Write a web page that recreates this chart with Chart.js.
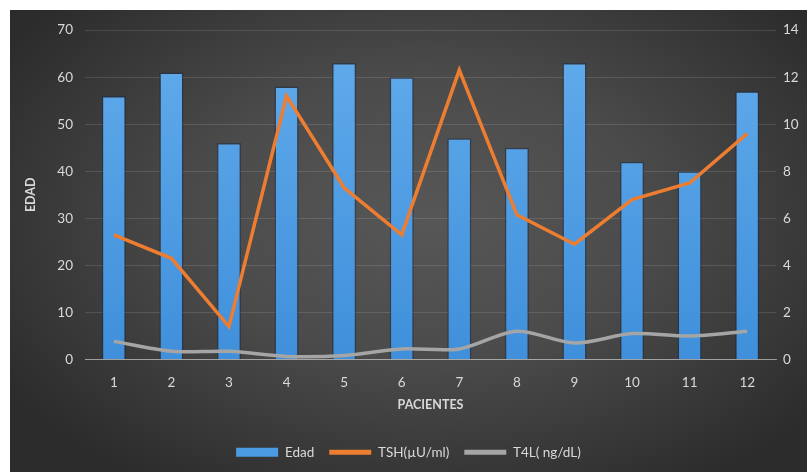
<!DOCTYPE html>
<html>
<head>
<meta charset="utf-8">
<title>Edad, TSH y T4L por paciente</title>
<script src="https://cdn.jsdelivr.net/npm/chart.js@4.4.1/dist/chart.umd.min.js"></script>
<style>
    html, body { margin: 0; padding: 0; background: #fff; }
    #panel {
        position: absolute; left: 10px; top: 10px; width: 797px; height: 462px;
        background: radial-gradient(ellipse 62% 68% at 52% 45%, #575757 0%, #4b4b4b 45%, #2c2c2c 100%);
    }
    canvas { display: block; }
</style>
</head>
<body>
<div id="panel"><canvas id="chart" width="797" height="462"></canvas></div>
<script>
// Data per patient
const pacientes = ['1', '2', '3', '4', '5', '6', '7', '8', '9', '10', '11', '12'];
const edad = [56, 61, 46, 58, 63, 60, 47, 45, 63, 42, 40, 57];
const tsh = [5.3, 4.3, 1.4, 11.2, 7.3, 5.3, 12.3, 6.15, 4.9, 6.8, 7.5, 9.6];
const t4l = [0.77, 0.35, 0.35, 0.13, 0.17, 0.45, 0.45, 1.2, 0.7, 1.1, 1.0, 1.2];

// Styles
const textColor = '#d9d9d9';
const blue = '#4a9be2';
const orange = '#ed7d31';
const gray = '#a5a5a5';
const legendColors = [blue, orange, gray];

Chart.defaults.font.family = 'Lato, "Liberation Sans", sans-serif';
Chart.defaults.color = textColor;

// Bars fade a little from top to bottom
function barFill(context) {
    const area = context.chart.chartArea;
    if (!area) return blue;
    const g = context.chart.ctx.createLinearGradient(0, area.top, 0, area.bottom);
    g.addColorStop(0, '#62acec');
    g.addColorStop(1, '#3f8fdb');
    return g;
}

const ctx = document.getElementById('chart').getContext('2d');
const chart = new Chart(ctx, {
    type: 'bar',
    data: {
        labels: pacientes,
        datasets: [
            {
                type: 'bar',
                label: 'Edad',
                data: edad,
                yAxisID: 'y',
                backgroundColor: barFill,
                borderColor: 'rgba(20, 40, 70, 0.45)',
                borderWidth: 1.5,
                barPercentage: 0.6,
                categoryPercentage: 0.7,
                order: 3,
            },
            {
                type: 'line',
                label: 'TSH(µU/ml)',
                data: tsh,
                yAxisID: 'y1',
                borderColor: orange,
                borderWidth: 3.5,
                pointRadius: 0,
                tension: 0,
                order: 1,
            },
            {
                type: 'line',
                label: 'T4L( ng/dL)',
                data: t4l,
                yAxisID: 'y1',
                borderColor: gray,
                borderWidth: 3.5,
                pointRadius: 0,
                tension: 0.3,
                order: 2,
            },
        ],
    },
    options: {
        responsive: false,
        animation: false,
        layout: { padding: { top: 17, left: 0, right: 0, bottom: 3 } },
        plugins: {
            tooltip: { enabled: false },
            legend: {
                position: 'bottom',
                labels: {
                    color: textColor,
                    font: { size: 13.5 },
                    usePointStyle: true,
                    pointStyleWidth: 42,
                    boxHeight: 9,
                    padding: 15,
                    generateLabels: (chart) => chart.data.datasets.map((ds, i) => ({
                        text: ds.label,
                        datasetIndex: i,
                        fillStyle: legendColors[i],
                        strokeStyle: legendColors[i],
                        lineWidth: i === 0 ? 0 : 5,
                        pointStyle: i === 0 ? 'rect' : 'line',
                        fontColor: textColor,
                        hidden: false,
                    })),
                },
            },
        },
        scales: {
            x: {
                grid: { display: false },
                border: { color: 'rgba(255, 255, 255, 0.45)', width: 1 },
                ticks: { color: textColor, font: { size: 13.5 }, padding: 7 },
                title: {
                    display: true,
                    text: 'PACIENTES',
                    color: textColor,
                    font: { size: 12.5, weight: 'bold' },
                    padding: { top: 0, bottom: 18 },
                },
                afterFit: (scale) => { scale.height = 71; },
            },
            y: {
                position: 'left',
                min: 0,
                max: 70,
                ticks: { stepSize: 10, color: textColor, font: { size: 13.5 }, padding: 12 },
                grid: { color: 'rgba(255, 255, 255, 0.12)', drawTicks: false },
                border: { display: false },
                title: {
                    display: true,
                    text: 'EDAD',
                    color: textColor,
                    font: { size: 12.5, weight: 'bold' },
                    padding: { top: 13, bottom: 0 },
                },
                afterFit: (scale) => { scale.width = 75; },
            },
            y1: {
                position: 'right',
                min: 0,
                max: 14,
                ticks: { stepSize: 2, color: textColor, font: { size: 13.5 }, padding: 7 },
                grid: { display: false, drawTicks: false },
                border: { display: false },
                afterFit: (scale) => { scale.width = 31; },
            },
        },
    },
});
</script>
</body>
</html>
